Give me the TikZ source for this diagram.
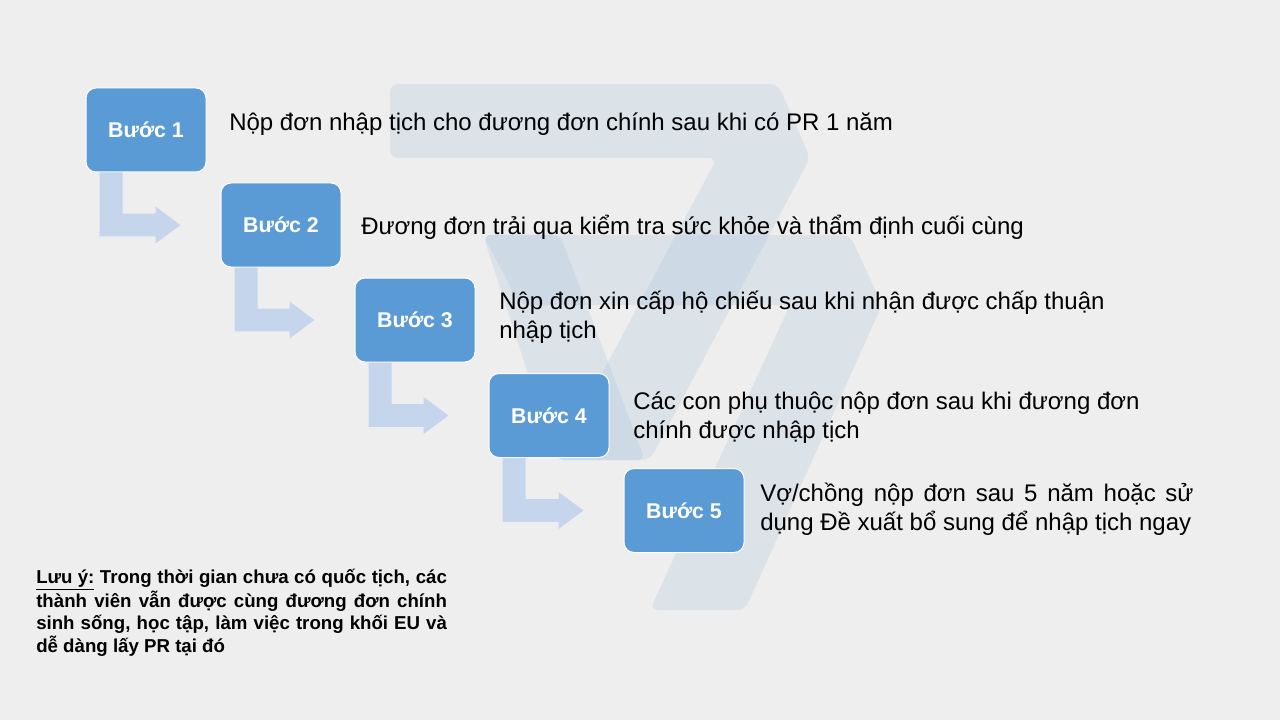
\documentclass[tikz,border=0pt]{standalone}
\usepackage{fontspec}
\setmainfont{Liberation Sans}
\usetikzlibrary{calc}

\definecolor{slidebg}{RGB}{239,238,238}
\definecolor{stepblue}{RGB}{91,155,213}
\definecolor{arrowblue}{RGB}{197,214,236}
\definecolor{logoblue}{RGB}{170,195,220}

\tikzset{
  stepbox/.style={draw=white, line width=0.75pt, fill=stepblue, rounded corners=7.5pt,
    minimum width=90pt, minimum height=63pt, text=white,
    font=\fontsize{16}{19}\selectfont\bfseries},
  steptext/.style={anchor=base west, inner sep=0pt, align=left,
    font=\fontsize{18}{21.75}\selectfont},
  notetext/.style={anchor=base west, inner sep=0pt, align=left,
    font=\fontsize{14}{16.7}\selectfont\bfseries},
  bentarrow/.style={fill=arrowblue},
  logoband/.style={fill=logoblue, fill opacity=0.28, rounded corners=6pt}
}

\begin{document}
\begin{tikzpicture}[x=0.75pt,y=-0.75pt]
	\fill[slidebg] (0,0) rectangle (1280,720);
	\useasboundingbox (0,0) rectangle (1280,720);

	% faint logo behind the steps
	\fill[logoband] (390,84) -- (778,84) -- (810,158) -- (650,460) -- (556,460) -- (717,158) -- (390,158) -- cycle;
	\fill[logoband] (483,235) -- (560,235) -- (645,460) -- (556,460) -- cycle;
	\fill[logoband] (483,235) -- (850,235) -- (882,305) -- (745,610) -- (650,610) -- (790,305) -- (520,305) -- cycle;

	\node[stepbox] (b1) at (146,130) {Bước 1};
	\node[stepbox] (b2) at (281,225) {Bước 2};
	\node[stepbox] (b3) at (415,320) {Bước 3};
	\node[stepbox] (b4) at (549,415.5) {Bước 4};
	\node[stepbox] (b5) at (684,510.5) {Bước 5};

	\foreach \a/\b in {b1/b2,b2/b3,b3/b4,b4/b5}
		\fill[bentarrow] let \p1=(\a.south west), \p2=(\b.west) in
			(\x1+10.5pt,\y1) -- (\x1+27.75pt,\y1) -- (\x1+27.75pt,\y2+8.6pt)
			-- (\x2-48.75pt,\y2+8.6pt) -- (\x2-48.75pt,\y2+13.9pt) -- (\x2-30pt,\y2)
			-- (\x2-48.75pt,\y2-13.9pt) -- (\x2-48.75pt,\y2-8.6pt) -- (\x1+10.5pt,\y2-8.6pt) -- cycle;

	\node[steptext] (t1) at (229,131) {Nộp đơn nhập tịch cho đương đơn chính sau khi có PR 1 năm};
	\node[steptext] (t2) at (361,234) {Đương đơn trải qua kiểm tra sức khỏe và thẩm định cuối cùng};
	\node[steptext] (t3) at (499,338) {Nộp đơn xin cấp hộ chiếu sau khi nhận được chấp thuận\\nhập tịch};
	\node[steptext] (t4) at (633,438) {Các con phụ thuộc nộp đơn sau khi đương đơn\\chính được nhập tịch};
	\node[steptext] (t5) at (760,530) {\makebox[325pt][s]{Vợ/chồng nộp đơn sau 5 năm hoặc sử}\\dụng Đề xuất bổ sung để nhập tịch ngay};

	\node[notetext] (note) at (36,652) {\makebox[308pt][s]{\underline{Lưu ý:} Trong thời gian chưa có quốc tịch, các}\\
		\makebox[308pt][s]{thành viên vẫn được cùng đương đơn chính}\\
		\makebox[308pt][s]{sinh sống, học tập, làm việc trong khối EU và}\\
		dễ dàng lấy PR tại đó};
\end{tikzpicture}
\end{document}
